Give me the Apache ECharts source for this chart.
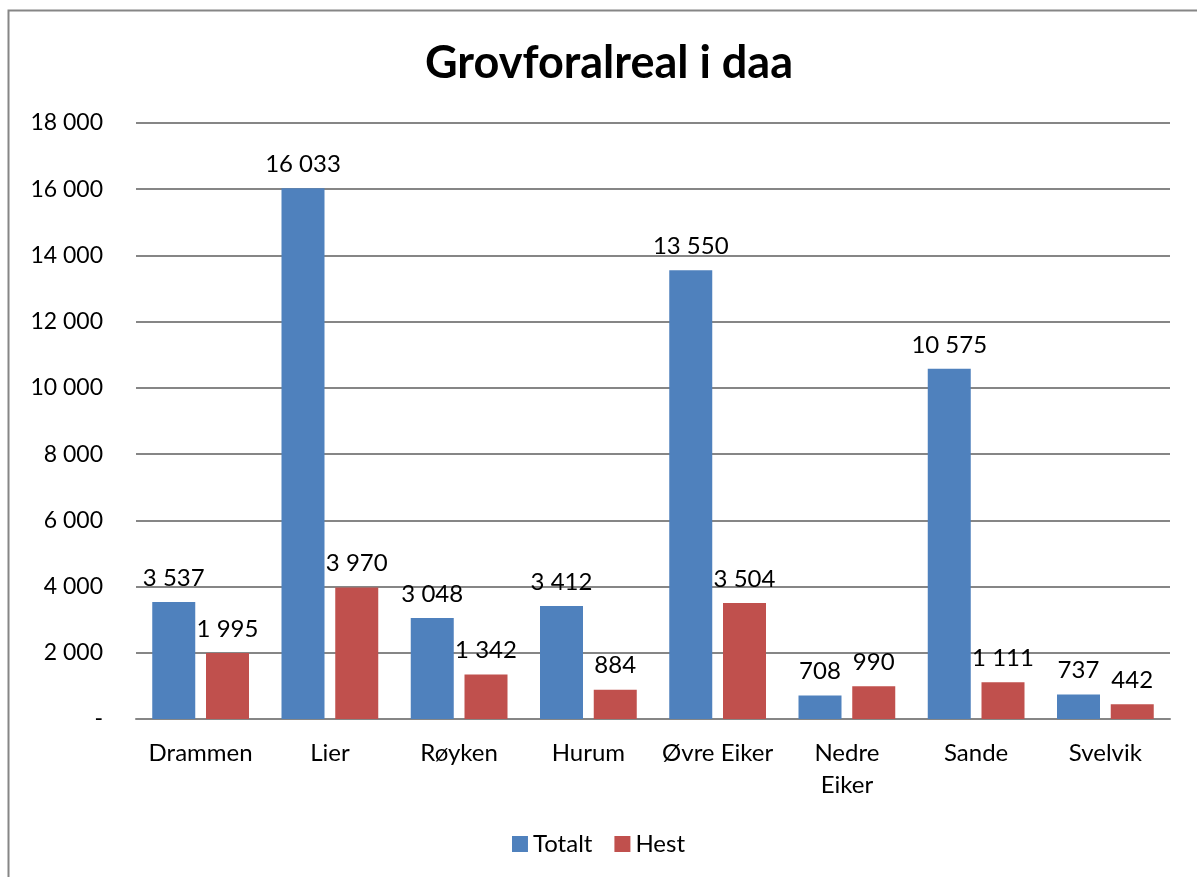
<!DOCTYPE html>
<html>
<head>
<meta charset="utf-8">
<script src="https://cdn.jsdelivr.net/npm/echarts@6/dist/echarts.min.js"></script>
<style>
	html, body { margin: 0; padding: 0; background: #fff; }
	#chart { width: 1197px; height: 877px; }
</style>
</head>
<body>
<div id="chart"></div>
<script>
// kategorier
var kommuner = ['Drammen', 'Lier', 'Røyken', 'Hurum', 'Øvre Eiker', 'Nedre\nEiker', 'Sande', 'Svelvik'];
// Totalt
var totalt = [3537, 16033, 3048, 3412, 13550, 708, 10575, 737];
// Hest
var hest = [1995, 3970, 1342, 884, 3504, 990, 1111, 442];

var fontName = 'Lato, "Open Sans", sans-serif';

// tall med mellomrom som tusenskille
function fmt(v) {
	if (v == 0) return '-';
	return String(v).replace(/\B(?=(\d{3})+(?!\d))/g, ' ');
}

var chart = echarts.init(document.getElementById('chart'));

var option = {
	backgroundColor: '#fff',
	animation: false,
	textStyle: { fontFamily: fontName },
	graphic: [{
		type: 'rect',
		shape: { x: 8.5, y: 10.5, width: 1300, height: 1000 },
		style: { fill: 'none', stroke: '#868686', lineWidth: 2 },
		silent: true
	}],
	title: {
		text: 'Grovforalreal i daa',
		left: 604,
		top: 36,
		textAlign: 'center',
		textStyle: { fontFamily: fontName, fontSize: 45, fontWeight: 'bold', color: '#000' }
	},
	legend: {
		data: ['Totalt', 'Hest'],
		left: 'center',
		top: 827,
		itemWidth: 16,
		itemHeight: 16,
		itemGap: 22,
		icon: 'rect',
		textStyle: { fontFamily: fontName, fontSize: 24, color: '#000' }
	},
	grid: { left: 136, right: 27, top: 123, bottom: 158 },
	xAxis: {
		type: 'category',
		data: kommuner,
		axisLine: { lineStyle: { color: '#868686', width: 2 } },
		axisTick: { show: false },
		axisLabel: { color: '#000', fontSize: 24, margin: 18, lineHeight: 32, fontFamily: fontName, interval: 0 }
	},
	yAxis: {
		type: 'value',
		min: 0,
		max: 18000,
		interval: 2000,
		axisLine: { show: false },
		axisTick: { show: false },
		splitLine: { lineStyle: { color: '#868686', width: 2 } },
		axisLabel: { color: '#000', fontSize: 23, margin: 33, fontFamily: fontName, formatter: fmt }
	},
	series: [{
		name: 'Totalt',
		type: 'bar',
		data: totalt,
		barWidth: 43,
		barGap: '25%',
		itemStyle: { color: '#4F81BD' },
		label: { show: true, position: 'top', distance: 12, color: '#000', fontSize: 24, fontFamily: fontName, formatter: function(p) { return fmt(p.value); } }
	}, {
		name: 'Hest',
		type: 'bar',
		data: hest,
		barWidth: 43,
		itemStyle: { color: '#C0504D' },
		label: { show: true, position: 'top', distance: 12, color: '#000', fontSize: 24, fontFamily: fontName, formatter: function(p) { return fmt(p.value); } }
	}]
};

chart.setOption(option);
</script>
</body>
</html>
